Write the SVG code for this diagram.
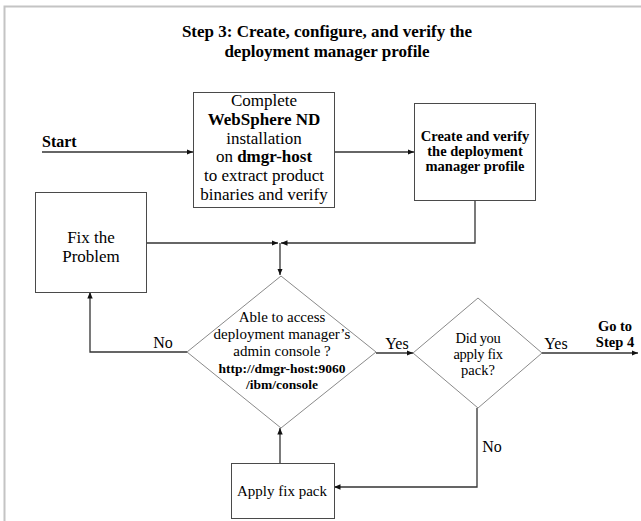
<svg xmlns="http://www.w3.org/2000/svg" width="641" height="521" viewBox="0 0 641 521">
<defs>
<style>
text{font-family:"Liberation Serif","Times New Roman",Times,serif;fill:#000;text-anchor:middle}
.b{font-weight:bold}
.r17{font-size:17px}
.r16{font-size:16px}
.r15{font-size:15px}
.r14{font-size:14.5px}
.box{fill:#fff;stroke:#4a4a4a;stroke-width:1}
.dia{fill:#fff;stroke:#8a8a8a;stroke-width:1}
.con{fill:none;stroke:#333;stroke-width:1.3}
.frame{stroke:#c4c4c4;stroke-width:2;fill:none}
</style>
<marker id="ah" markerWidth="7" markerHeight="6" refX="6.5" refY="3" orient="auto" markerUnits="userSpaceOnUse">
<path d="M0,0.3 L6.5,3 L0,5.7 z" fill="#111"/>
</marker>
</defs>
<rect width="641" height="521" fill="#fff"/>
<path class="frame" d="M4.5,521 V6.5 H641"/>

<g id="title">
<text class="b" x="327" y="37" style="font-size:17px">Step 3: Create, configure, and verify the</text>
<text class="b" x="327" y="57" style="font-size:17px">deployment manager profile</text>
</g>

<g id="connectors">
<path class="con" d="M42,152 H193" marker-end="url(#ah)"/>
<path class="con" d="M334,152 H414" marker-end="url(#ah)"/>
<path class="con" d="M475,200 V243 H281" marker-end="url(#ah)"/>
<path class="con" d="M146,243 H278" marker-end="url(#ah)"/>
<path class="con" d="M280,243 V275" marker-end="url(#ah)"/>
<path class="con" d="M187,352 H90 V292" marker-end="url(#ah)"/>
<path class="con" d="M376,353 H413" marker-end="url(#ah)"/>
<path class="con" d="M542,353 H638" marker-end="url(#ah)"/>
<path class="con" d="M477,408 V487 H334" marker-end="url(#ah)"/>
<path class="con" d="M280,463 V428" marker-end="url(#ah)"/>
</g>

<g id="start">
<text class="b r16" x="42" y="147" style="text-anchor:start">Start</text>
</g>

<g id="install">
<rect class="box" x="193.5" y="92.5" width="141" height="115"/>
<text class="r17" x="264" y="106">Complete</text>
<text class="r17 b" x="264" y="125">WebSphere ND</text>
<text class="r17" x="264" y="144">installation</text>
<text class="r17" x="264" y="162">on <tspan class="b">dmgr-host</tspan></text>
<text class="r17" x="264" y="181">to extract product</text>
<text class="r17" x="264" y="200">binaries and verify</text>
</g>

<g id="create">
<rect class="box" x="414.5" y="103.5" width="121" height="97"/>
<text class="b" x="475" y="141" style="font-size:14.5px">Create and verify</text>
<text class="b" x="475" y="156" style="font-size:14.5px">the deployment</text>
<text class="b" x="475" y="171" style="font-size:14.5px">manager profile</text>
</g>

<g id="fix">
<rect class="box" x="35.5" y="192.5" width="111" height="100"/>
<text class="r17" x="91" y="243">Fix the</text>
<text class="r17" x="91" y="262">Problem</text>
</g>

<g id="access">
<polygon class="dia" points="281,276 376,352 281,428 187,352"/>
<text class="r15" x="282" y="322">Able to access</text>
<text class="r15" x="282" y="339">deployment manager’s</text>
<text class="r15" x="282" y="356">admin console ?</text>
<text class="b" x="282" y="373" style="font-size:13.5px">http://dmgr-host:9060</text>
<text class="b" x="282" y="389" style="font-size:13.5px">/ibm/console</text>
</g>

<g id="fixpack">
<polygon class="dia" points="478,298 542,353 478,408 413,353"/>
<text class="r14" x="478" y="343" style="letter-spacing:-0.3px">Did you</text>
<text class="r14" x="478" y="359" style="letter-spacing:-0.3px">apply fix</text>
<text class="r14" x="478" y="375">pack?</text>
</g>

<g id="apply">
<rect class="box" x="231.5" y="463.5" width="103" height="55"/>
<text class="r15" x="282" y="496">Apply fix pack</text>
</g>

<g id="step4">
<text class="b" x="615" y="331" style="font-size:14.5px">Go to</text>
<text class="b" x="615" y="347" style="font-size:14.5px">Step 4</text>
</g>

<g id="labels">
<text class="r16" x="163" y="348">No</text>
<text class="r16" x="397" y="349">Yes</text>
<text class="r16" x="556" y="349">Yes</text>
<text class="r16" x="492" y="452">No</text>
</g>
</svg>
